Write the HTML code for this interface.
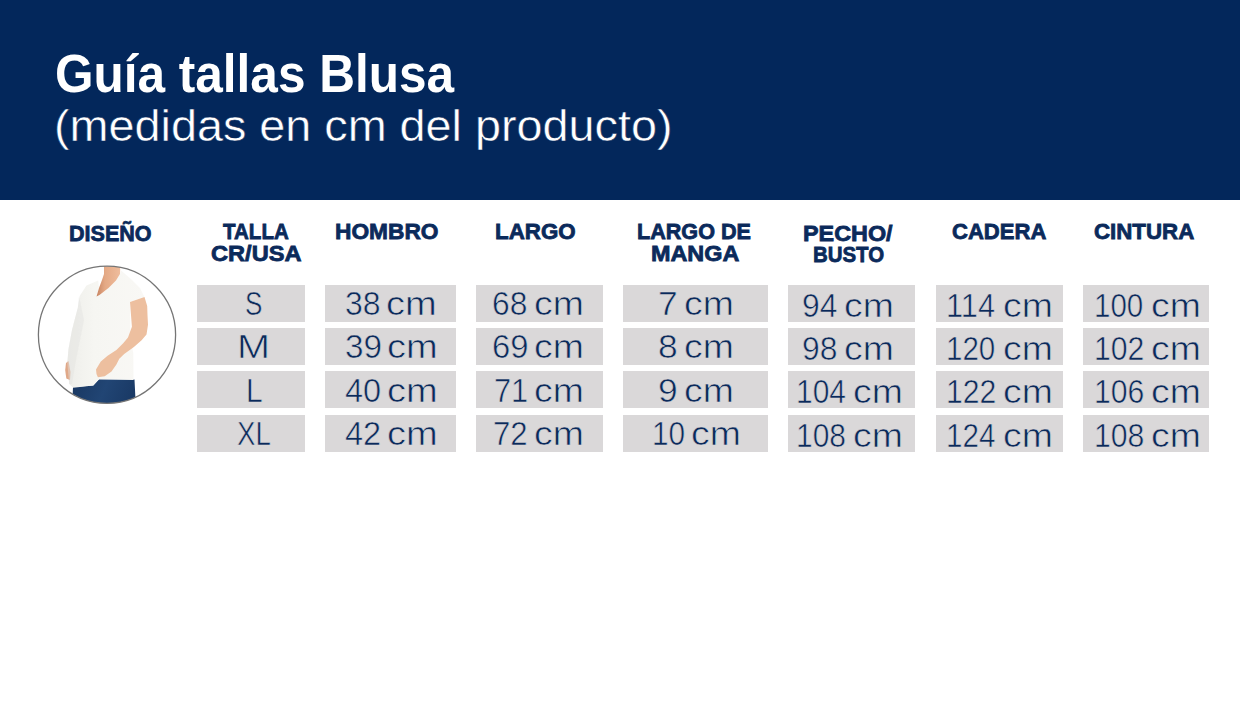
<!DOCTYPE html>
<html><head><meta charset="utf-8">
<style>
html,body{margin:0;padding:0;}
body{width:1240px;height:720px;position:relative;overflow:hidden;background:#fff;font-family:"Liberation Sans",sans-serif;}
.bar{position:absolute;left:0;top:0;width:1240px;height:199.5px;background:#03275b;}
.bx{position:absolute;background:#dad8d9;}
.t{position:absolute;line-height:1;white-space:nowrap;transform-origin:0 0;}
.title{font-weight:bold;color:#fff;}
.sub{color:#fff;-webkit-text-stroke:0.5px #03275b;}
.hdr{font-weight:bold;color:#0b2a5b;-webkit-text-stroke:0.8px #0b2a5b;}
.dat{color:#0b2a5b;-webkit-text-stroke:0.6px #dad8d9;}
</style></head><body>
<div class="bar"></div>
<div class="bx" style="left:197px;top:285px;width:108.0px;height:37px"></div>
<div class="bx" style="left:197px;top:328px;width:108.0px;height:37px"></div>
<div class="bx" style="left:197px;top:371.3px;width:108.0px;height:37px"></div>
<div class="bx" style="left:197px;top:414.8px;width:108.0px;height:36.8px"></div>
<div class="bx" style="left:325.4px;top:285px;width:130.6px;height:37px"></div>
<div class="bx" style="left:325.4px;top:328px;width:130.6px;height:37px"></div>
<div class="bx" style="left:325.4px;top:371.3px;width:130.6px;height:37px"></div>
<div class="bx" style="left:325.4px;top:414.8px;width:130.6px;height:36.8px"></div>
<div class="bx" style="left:476px;top:285px;width:126.5px;height:37px"></div>
<div class="bx" style="left:476px;top:328px;width:126.5px;height:37px"></div>
<div class="bx" style="left:476px;top:371.3px;width:126.5px;height:37px"></div>
<div class="bx" style="left:476px;top:414.8px;width:126.5px;height:36.8px"></div>
<div class="bx" style="left:623.2px;top:285px;width:144.5px;height:37px"></div>
<div class="bx" style="left:623.2px;top:328px;width:144.5px;height:37px"></div>
<div class="bx" style="left:623.2px;top:371.3px;width:144.5px;height:37px"></div>
<div class="bx" style="left:623.2px;top:414.8px;width:144.5px;height:36.8px"></div>
<div class="bx" style="left:788.2px;top:285px;width:126.7px;height:37px"></div>
<div class="bx" style="left:788.2px;top:328px;width:126.7px;height:37px"></div>
<div class="bx" style="left:788.2px;top:371.3px;width:126.7px;height:37px"></div>
<div class="bx" style="left:788.2px;top:414.8px;width:126.7px;height:36.8px"></div>
<div class="bx" style="left:935.6px;top:285px;width:127.1px;height:37px"></div>
<div class="bx" style="left:935.6px;top:328px;width:127.1px;height:37px"></div>
<div class="bx" style="left:935.6px;top:371.3px;width:127.1px;height:37px"></div>
<div class="bx" style="left:935.6px;top:414.8px;width:127.1px;height:36.8px"></div>
<div class="bx" style="left:1083.3px;top:285px;width:125.6px;height:37px"></div>
<div class="bx" style="left:1083.3px;top:328px;width:125.6px;height:37px"></div>
<div class="bx" style="left:1083.3px;top:371.3px;width:125.6px;height:37px"></div>
<div class="bx" style="left:1083.3px;top:414.8px;width:125.6px;height:36.8px"></div>
<div class="t title" style="left:55.13px;top:47.05px;font-size:53px;transform:scale(0.9343,1.0000)">Guía tallas Blusa</div>
<div class="t sub" style="left:53.88px;top:103.05px;font-size:45px;transform:scale(1.0390,1.0000)">(medidas en cm del producto)</div>
<div class="t hdr" style="left:69.07px;top:222.99px;font-size:22.6px;transform:scale(0.9536,1.0000)">DISEÑO</div>
<div class="t hdr" style="left:223.00px;top:220.89px;font-size:22.6px;transform:scale(0.9085,1.0000)">TALLA</div>
<div class="t hdr" style="left:210.57px;top:242.89px;font-size:22.6px;transform:scale(1.0447,1.0000)">CR/USA</div>
<div class="t hdr" style="left:334.79px;top:221.29px;font-size:22.6px;transform:scale(1.0061,1.0000)">HOMBRO</div>
<div class="t hdr" style="left:495.41px;top:221.29px;font-size:22.6px;transform:scale(0.9887,1.0000)">LARGO</div>
<div class="t hdr" style="left:637.44px;top:221.29px;font-size:22.6px;transform:scale(0.9556,1.0000)">LARGO DE</div>
<div class="t hdr" style="left:650.95px;top:243.09px;font-size:22.6px;transform:scale(1.0350,1.0000)">MANGA</div>
<div class="t hdr" style="left:802.56px;top:223.29px;font-size:22.6px;transform:scale(1.0342,1.0000)">PECHO/</div>
<div class="t hdr" style="left:812.53px;top:244.49px;font-size:22.6px;transform:scale(0.9040,1.0000)">BUSTO</div>
<div class="t hdr" style="left:951.83px;top:221.29px;font-size:22.6px;transform:scale(0.9757,1.0000)">CADERA</div>
<div class="t hdr" style="left:1093.81px;top:221.29px;font-size:22.6px;transform:scale(0.9859,1.0000)">CINTURA</div>
<div class="t dat" style="left:244.67px;top:286.95px;font-size:33.0px;transform:scale(0.7887,1.0000)">S</div>
<div class="t dat" style="left:236.99px;top:330.35px;font-size:33.0px;transform:scale(1.2019,1.0000)">M</div>
<div class="t dat" style="left:246.27px;top:373.75px;font-size:33.0px;transform:scale(0.9096,1.0000)">L</div>
<div class="t dat" style="left:236.56px;top:417.15px;font-size:33.0px;transform:scale(0.8391,1.0000)">XL</div>
<div class="t dat" style="left:344.86px;top:286.95px;font-size:33.0px;transform:scale(0.9688,1.0000)">38</div>
<div class="t dat" style="left:386.45px;top:286.95px;font-size:33.0px;transform:scale(1.1538,1.0000)">cm</div>
<div class="t dat" style="left:344.78px;top:330.35px;font-size:33.0px;transform:scale(1.0094,1.0000)">39</div>
<div class="t dat" style="left:386.94px;top:330.35px;font-size:33.0px;transform:scale(1.1538,1.0000)">cm</div>
<div class="t dat" style="left:345.23px;top:373.75px;font-size:33.0px;transform:scale(0.9851,1.0000)">40</div>
<div class="t dat" style="left:386.94px;top:373.75px;font-size:33.0px;transform:scale(1.1538,1.0000)">cm</div>
<div class="t dat" style="left:345.23px;top:417.15px;font-size:33.0px;transform:scale(0.9851,1.0000)">42</div>
<div class="t dat" style="left:386.94px;top:417.15px;font-size:33.0px;transform:scale(1.1538,1.0000)">cm</div>
<div class="t dat" style="left:492.29px;top:286.95px;font-size:33.0px;transform:scale(0.9630,1.0000)">68</div>
<div class="t dat" style="left:534.19px;top:286.95px;font-size:33.0px;transform:scale(1.1338,1.0000)">cm</div>
<div class="t dat" style="left:492.22px;top:330.35px;font-size:33.0px;transform:scale(0.9940,1.0000)">69</div>
<div class="t dat" style="left:534.19px;top:330.35px;font-size:33.0px;transform:scale(1.1338,1.0000)">cm</div>
<div class="t dat" style="left:494.39px;top:373.75px;font-size:33.0px;transform:scale(0.9315,1.0000)">71</div>
<div class="t dat" style="left:534.19px;top:373.75px;font-size:33.0px;transform:scale(1.1338,1.0000)">cm</div>
<div class="t dat" style="left:493.15px;top:417.15px;font-size:33.0px;transform:scale(0.9440,1.0000)">72</div>
<div class="t dat" style="left:534.19px;top:417.15px;font-size:33.0px;transform:scale(1.1338,1.0000)">cm</div>
<div class="t dat" style="left:658.26px;top:286.95px;font-size:33.0px;transform:scale(1.0714,1.0000)">7</div>
<div class="t dat" style="left:684.05px;top:286.95px;font-size:33.0px;transform:scale(1.1338,1.0000)">cm</div>
<div class="t dat" style="left:658.26px;top:330.35px;font-size:33.0px;transform:scale(1.0714,1.0000)">8</div>
<div class="t dat" style="left:684.05px;top:330.35px;font-size:33.0px;transform:scale(1.1338,1.0000)">cm</div>
<div class="t dat" style="left:658.26px;top:373.75px;font-size:33.0px;transform:scale(1.0714,1.0000)">9</div>
<div class="t dat" style="left:684.05px;top:373.75px;font-size:33.0px;transform:scale(1.1338,1.0000)">cm</div>
<div class="t dat" style="left:652.44px;top:417.15px;font-size:33.0px;transform:scale(0.9013,1.0000)">10</div>
<div class="t dat" style="left:691.19px;top:417.15px;font-size:33.0px;transform:scale(1.1338,1.0000)">cm</div>
<div class="t dat" style="left:802.25px;top:288.55px;font-size:33.0px;transform:scale(0.9639,1.0000)">94</div>
<div class="t dat" style="left:844.19px;top:288.55px;font-size:33.0px;transform:scale(1.1338,1.0000)">cm</div>
<div class="t dat" style="left:802.25px;top:331.95px;font-size:33.0px;transform:scale(0.9639,1.0000)">98</div>
<div class="t dat" style="left:844.19px;top:331.95px;font-size:33.0px;transform:scale(1.1338,1.0000)">cm</div>
<div class="t dat" style="left:796.28px;top:375.35px;font-size:33.0px;transform:scale(0.9060,1.0000)">104</div>
<div class="t dat" style="left:853.05px;top:375.35px;font-size:33.0px;transform:scale(1.1338,1.0000)">cm</div>
<div class="t dat" style="left:796.28px;top:418.75px;font-size:33.0px;transform:scale(0.9065,1.0000)">108</div>
<div class="t dat" style="left:853.05px;top:418.75px;font-size:33.0px;transform:scale(1.1338,1.0000)">cm</div>
<div class="t dat" style="left:946.23px;top:288.55px;font-size:33.0px;transform:scale(0.9321,1.0000)">114</div>
<div class="t dat" style="left:1003.05px;top:288.55px;font-size:33.0px;transform:scale(1.1338,1.0000)">cm</div>
<div class="t dat" style="left:946.37px;top:331.95px;font-size:33.0px;transform:scale(0.8941,1.0000)">120</div>
<div class="t dat" style="left:1003.05px;top:331.95px;font-size:33.0px;transform:scale(1.1338,1.0000)">cm</div>
<div class="t dat" style="left:946.30px;top:375.35px;font-size:33.0px;transform:scale(0.9144,1.0000)">122</div>
<div class="t dat" style="left:1003.05px;top:375.35px;font-size:33.0px;transform:scale(1.1338,1.0000)">cm</div>
<div class="t dat" style="left:946.37px;top:418.75px;font-size:33.0px;transform:scale(0.8961,1.0000)">124</div>
<div class="t dat" style="left:1003.05px;top:418.75px;font-size:33.0px;transform:scale(1.1338,1.0000)">cm</div>
<div class="t dat" style="left:1094.37px;top:288.55px;font-size:33.0px;transform:scale(0.8941,1.0000)">100</div>
<div class="t dat" style="left:1151.05px;top:288.55px;font-size:33.0px;transform:scale(1.1338,1.0000)">cm</div>
<div class="t dat" style="left:1094.30px;top:331.95px;font-size:33.0px;transform:scale(0.9144,1.0000)">102</div>
<div class="t dat" style="left:1151.05px;top:331.95px;font-size:33.0px;transform:scale(1.1338,1.0000)">cm</div>
<div class="t dat" style="left:1094.30px;top:375.35px;font-size:33.0px;transform:scale(0.9144,1.0000)">106</div>
<div class="t dat" style="left:1151.05px;top:375.35px;font-size:33.0px;transform:scale(1.1338,1.0000)">cm</div>
<div class="t dat" style="left:1094.30px;top:418.75px;font-size:33.0px;transform:scale(0.9144,1.0000)">108</div>
<div class="t dat" style="left:1151.05px;top:418.75px;font-size:33.0px;transform:scale(1.1338,1.0000)">cm</div>
<svg style="position:absolute;left:30px;top:255px" width="160" height="160" viewBox="30 255 160 160">
<defs>
<clipPath id="cc"><circle cx="107" cy="334.8" r="68.6"/></clipPath>
<linearGradient id="jg" x1="0" y1="0" x2="1" y2="0.2">
<stop offset="0" stop-color="#193761"/><stop offset="0.55" stop-color="#214574"/><stop offset="1" stop-color="#1a3a66"/>
</linearGradient>
<linearGradient id="nk" x1="0" y1="0" x2="1" y2="0">
<stop offset="0" stop-color="#c78462"/><stop offset="0.35" stop-color="#e4a985"/><stop offset="1" stop-color="#efbd9d"/>
</linearGradient>
<linearGradient id="bl" x1="0" y1="0" x2="1" y2="0">
<stop offset="0" stop-color="#eeeeea"/><stop offset="0.35" stop-color="#f6f6f2"/><stop offset="1" stop-color="#f9f8f5"/>
</linearGradient>
</defs>
<circle cx="107" cy="334.8" r="68.6" fill="#fff"/>
<g clip-path="url(#cc)">
<path d="M73 387 L93.3 385.5 L99 379.5 L134.5 379.5 L136 410 L72 410 Z" fill="url(#jg)"/>
<path d="M98.2 280.5 L86.5 285.4 L79.7 296 L77.8 307.7 L72 330 L68.5 349 L67.3 363 L69.2 384 L73.2 387.8 L93.3 385.5 L99 379 L133.5 380 L133.3 353 L130.5 340 L130 302 L144.5 297 L140 288 L131 279 L121 270.5 L120 274 L116 280.5 L108.5 288 L99.5 295 L96.5 296.5 L99 288 Z" fill="url(#bl)"/>
<path d="M104 262 L120.5 262 L120 274 L116 280.5 L108.5 288 L99.5 295 L96.5 296.5 L99 288 L102 280 L104 274 Z" fill="url(#nk)"/>
<path d="M130 302 L144.5 297 L147.2 306 L147.5 315 L148 324.7 L146.5 334.4 L141.6 340.3 L133.9 347.1 L124.2 353.9 L119.3 358.7 L116.4 364.6 L111.5 371.4 L104.7 376.2 L97.9 377.2 L96.5 374 L96 369.4 L100.8 361.6 L107.6 355.8 L116.4 350 L123.2 343.2 L128 337.4 L131.9 326.7 L131 315 Z" fill="#edbf9f"/>
<path d="M66 363 L68.5 361 L70.5 372 L70 380 L66.3 378.5 L65.2 370 Z" fill="#e0a888"/>
<path d="M79 296 L84 320 L76 360 L72 384 L69.2 384 L67.3 363 L68.5 349 L72 330 L77.8 307.7 Z" fill="#e3e3df" opacity="0.45"/>
</g>
<circle cx="107" cy="334.8" r="68.6" fill="none" stroke="#757575" stroke-width="1.3"/>
</svg>

</body></html>
